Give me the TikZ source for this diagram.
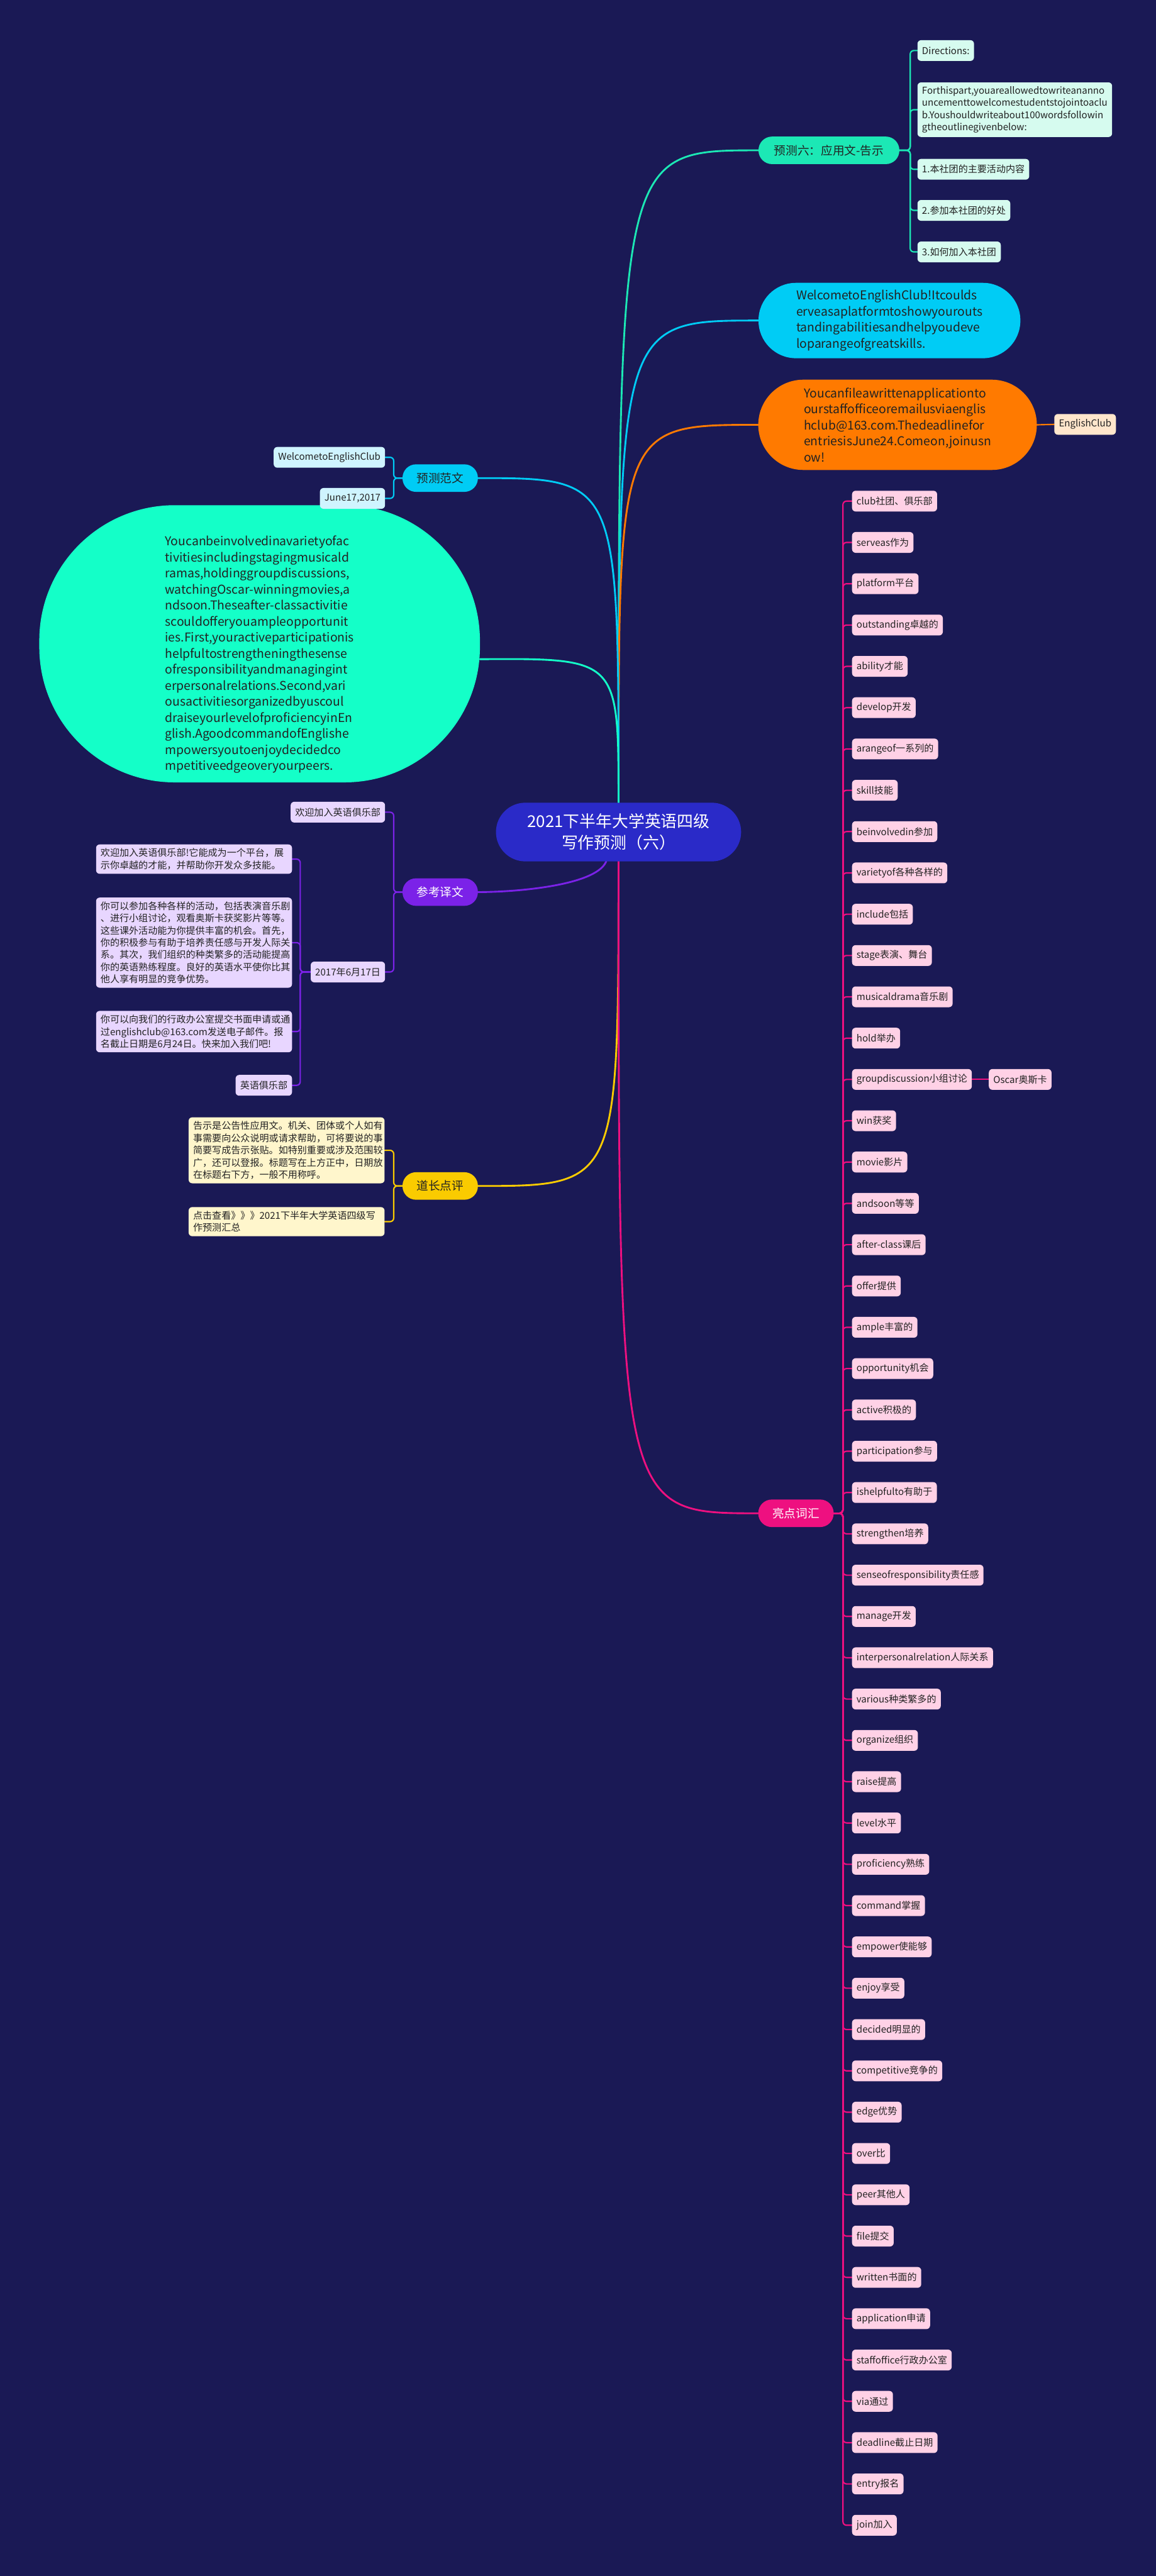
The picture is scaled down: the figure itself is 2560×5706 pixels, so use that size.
\documentclass[tikz,border=0pt]{standalone}
\usepackage{fontspec}
\setmainfont{Noto Sans CJK SC}
\definecolor{bgc}{HTML}{1A1955}
\definecolor{cenc}{HTML}{2A2AC8}
\definecolor{c6}{HTML}{1CE8B5}
\definecolor{c6k}{HTML}{D6FBEF}
\definecolor{cblue}{HTML}{00CCF5}
\definecolor{cbluek}{HTML}{CFF4FF}
\definecolor{corange}{HTML}{FF7A00}
\definecolor{corangek}{HTML}{FFE6CC}
\definecolor{cgreen}{HTML}{14FFC8}
\definecolor{cpurple}{HTML}{7B22E8}
\definecolor{cpurplek}{HTML}{E8D6FF}
\definecolor{cyellow}{HTML}{FACB00}
\definecolor{cyellowk}{HTML}{FFF6CC}
\definecolor{cpink}{HTML}{EE1080}
\definecolor{cpinkk}{HTML}{FFD1E6}
\definecolor{txt}{HTML}{222222}
\pgfdeclarelayer{back}
\pgfsetlayers{back,main}
\tikzset{
  every node/.style={inner sep=0pt, text=txt},
  cnode/.style={fill=cenc, text=white, rounded corners=65pt, minimum width=543pt, minimum height=130pt, align=center, font=\fontsize{36}{47}\selectfont},
  lone/.style={rounded corners=30pt, minimum height=61pt, minimum width=167pt, align=center, font=\fontsize{26}{32}\selectfont},
  bubble/.style={align=left, font=\fontsize{27}{35.5}\selectfont},
  kid/.style={rounded corners=8pt, minimum height=46pt, inner xsep=10pt, inner ysep=9pt, align=left, font=\fontsize{21}{27}\selectfont},
  para/.style={kid, text width=414pt},
  voc/.style={kid, fill=cpinkk, anchor=west},
  br/.style={line width=4pt, line cap=round},
  kl/.style={line width=3pt, rounded corners=8pt, line cap=round},
}
\begin{document}
\begin{tikzpicture}[x=1pt,y=-1pt]
\useasboundingbox (0,0) rectangle (2560,5706);
\begin{pgfonlayer}{back}
\fill[bgc] (0,0) rectangle (2560,5706);
\end{pgfonlayer}

% central
\node[cnode] (cen) at (1370,1843) {2021下半年大学英语四级\\写作预测（六）};
\coordinate (cP) at (1344,1904);

% level 1
\node[lone, fill=c6, minimum width=312pt] (p6) at (1836,333) {预测六：应用文-告示};
\node[fill=cblue, rounded corners=83pt, minimum width=580pt, minimum height=167pt, bubble] (blue) at (1970,710)
  {WelcometoEnglishClub!Itcoulds\\erveasaplatformtoshowyourouts\\tandingabilitiesandhelpyoudeve\\loparangeofgreatskills.};
\node[fill=corange, rounded corners=100pt, minimum width=617pt, minimum height=200pt, bubble] (orange) at (1988,941)
  {Youcanfileawrittenapplicationto\\ourstaffofficeoremailusviaenglis\\hclub@163.com.Thedeadlinefor\\entriesisJune24.Comeon,joinusn\\ow!};
\node[lone, fill=cpink, text=white] (hl) at (1763,3352) {亮点词汇};
\node[lone, fill=cblue] (fw) at (975,1059) {预测范文};
\node[fill=cgreen, rounded corners=300pt, minimum width=976pt, minimum height=614pt] (green) at (575,1426) {};
\node[bubble] (greentext) at (575,1450)
  {Youcanbeinvolvedinavarietyofac\\tivitiesincludingstagingmusicald\\ramas,holdinggroupdiscussions,\\watchingOscar-winningmovies,a\\ndsoon.Theseafter-classactivitie\\scouldofferyouampleopportunit\\ies.First,youractiveparticipationis\\helpfultostrengtheningthesense\\ofresponsibilityandmanagingint\\erpersonalrelations.Second,vari\\ousactivitiesorganizedbyuscoul\\draiseyourlevelofproficiencyinEn\\glish.AgoodcommandofEnglishe\\mpowersyoutoenjoydecidedco\\mpetitiveedgeoveryourpeers.};
\node[lone, fill=cpurple, text=white] (ck) at (975,1976) {参考译文};
\node[lone, fill=cyellow] (dz) at (975,2627) {道长点评};

% teal children
\node[kid, fill=c6k, anchor=west] (dir) at (2032,112) {Directions:};
\node[kid, fill=c6k, anchor=west, text width=411pt] (fort) at (2032,243) {Forthispart,youareallowedtowriteananno\\uncementtowelcomestudentstojointoaclu\\b.Youshouldwriteabout100wordsfollowin\\gtheoutlinegivenbelow:};
\node[kid, fill=c6k, anchor=west] (one) at (2032,375) {1.本社团的主要活动内容};
\node[kid, fill=c6k, anchor=west] (two) at (2032,466) {2.参加本社团的好处};
\node[kid, fill=c6k, anchor=west] (three) at (2032,558) {3.如何加入本社团};

% orange child
\node[kid, fill=corangek, anchor=west] (ec) at (2335,940) {EnglishClub};

% 预测范文 children
\node[kid, fill=cbluek, anchor=east] (wel) at (853,1013) {WelcometoEnglishClub};
\node[kid, fill=cbluek, anchor=east] (june) at (853,1104) {June17,2017};

% 参考译文 children
\node[kid, fill=cpurplek, anchor=east] (huan) at (853,1799) {欢迎加入英语俱乐部};
\node[kid, fill=cpurplek, anchor=east] (date) at (853,2153) {2017年6月17日};
\node[para, fill=cpurplek, anchor=east] (pa) at (647,1903) {欢迎加入英语俱乐部!它能成为一个平台，展\\示你卓越的才能，并帮助你开发众多技能。};
\node[para, fill=cpurplek, anchor=east] (pb) at (647,2088) {你可以参加各种各样的活动，包括表演音乐剧\\、进行小组讨论，观看奥斯卡获奖影片等等。\\这些课外活动能为你提供丰富的机会。首先，\\你的积极参与有助于培养责任感与开发人际关\\系。其次，我们组织的种类繁多的活动能提高\\你的英语熟练程度。良好的英语水平使你比其\\他人享有明显的竞争优势。};
\node[para, fill=cpurplek, anchor=east] (pc) at (647,2285) {你可以向我们的行政办公室提交书面申请或通\\过englishclub@163.com发送电子邮件。报\\名截止日期是6月24日。快来加入我们吧!};
\node[kid, fill=cpurplek, anchor=east] (ying) at (647,2404) {英语俱乐部};

% 道长点评 children
\node[para, fill=cyellowk, anchor=east] (note) at (852,2548) {告示是公告性应用文。机关、团体或个人如有\\事需要向公众说明或请求帮助，可将要说的事\\简要写成告示张贴。如特别重要或涉及范围较\\广，还可以登报。标题写在上方正中，日期放\\在标题右下方，一般不用称呼。};
\node[para, fill=cyellowk, anchor=east] (click) at (852,2706) {点击查看》》》2021下半年大学英语四级写\\作预测汇总};

% vocabulary
\foreach \t [count=\i from 0] in {club社团、俱乐部, serveas作为, platform平台, outstanding卓越的, ability才能, develop开发, arangeof一系列的, skill技能, beinvolvedin参加, varietyof各种各样的, include包括, stage表演、舞台, musicaldrama音乐剧, hold举办, groupdiscussion小组讨论, win获奖, movie影片, andsoon等等, after-class课后, offer提供, ample丰富的, opportunity机会, active积极的, participation参与, ishelpfulto有助于, strengthen培养, senseofresponsibility责任感, manage开发, interpersonalrelation人际关系, various种类繁多的, organize组织, raise提高, level水平, proficiency熟练, command掌握, empower使能够, enjoy享受, decided明显的, competitive竞争的, edge优势, over比, peer其他人, file提交, written书面的, application申请, staffoffice行政办公室, via通过, deadline截止日期, entry报名, join加入}
  {\node[voc] (v\i) at (1887,{1110+91.5*\i}) {\t};}
\node[voc] (osc) at (2190,2391) {Oscar奥斯卡};

% spine coordinates
\coordinate (s6) at (2016,333);
\coordinate (sfw) at (872,1059);
\coordinate (sck) at (872,1976);
\coordinate (sdate) at (665,2153);
\coordinate (sdz) at (872,2627);
\coordinate (shl) at (1867,3352);

\begin{pgfonlayer}{back}
% main branches
\draw[br, c6] (cen.north) .. controls (1370,333) .. (p6.west);
\draw[br, cblue] (cen.north) .. controls (1370,710) .. (blue.west);
\draw[br, corange] (cen.north) .. controls (1370,941) .. (orange.west);
\draw[br, cblue] (cen.north) .. controls (1370,1059) .. (fw.east);
\draw[br, cgreen] (cen.north) .. controls (1370,1458) .. (green.-4);
\draw[br, cpurple] (cP) .. controls (1330,1960) and (1150,1976) .. (ck.east);
\draw[br, cyellow] (cen.south) .. controls (1370,2627) .. (dz.east);
\draw[br, cpink] (cen.south) .. controls (1370,3352) .. (hl.west);

% child brackets
\foreach \k in {dir,fort,one,two,three} \draw[kl, c6] (p6.east) -- (s6) |- (\k.west);
\draw[kl, corange] (orange.east) -- (ec.west);
\foreach \k in {wel,june} \draw[kl, cblue] (fw.west) -- (sfw) |- (\k.east);
\foreach \k in {huan,date} \draw[kl, cpurple] (ck.west) -- (sck) |- (\k.east);
\foreach \k in {pa,pb,pc,ying} \draw[kl, cpurple] (date.west) -- (sdate) |- (\k.east);
\foreach \k in {note,click} \draw[kl, cyellow] (dz.west) -- (sdz) |- (\k.east);
\foreach \i in {0,...,49} \draw[kl, cpink] (hl.east) -- (shl) |- (v\i.west);
\draw[kl, cpink] (v14.east) -- (osc.west);
\end{pgfonlayer}
\end{tikzpicture}
\end{document}
